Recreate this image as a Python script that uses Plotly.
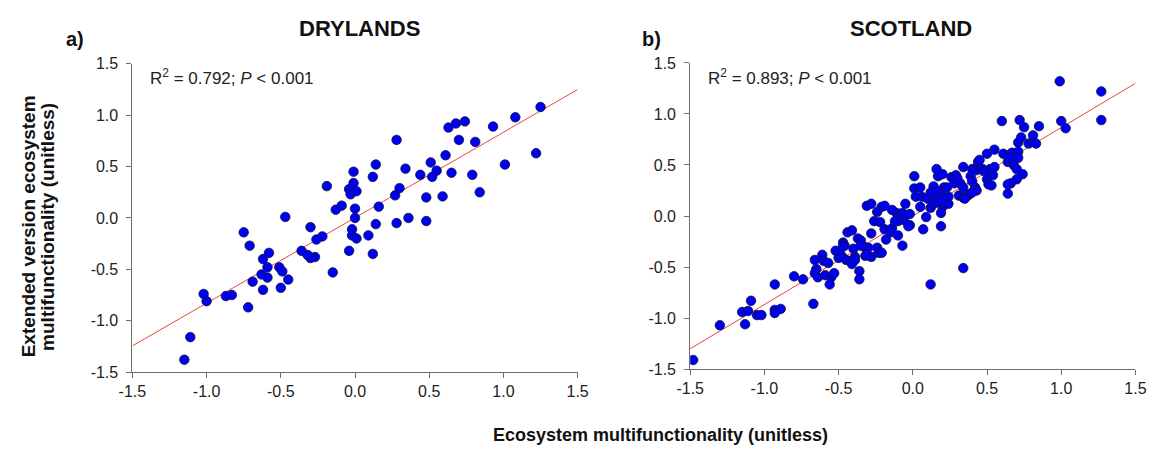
import plotly.graph_objects as go

# ---------------- data ----------------
dry_x = [1.25, 1.08, 1.22, 1.01, 0.93, 0.74, 0.68, 0.63, 0.70, 0.81,
         0.61, 0.51, 0.55, 0.52, 0.65, 0.79, 0.84, 0.59, 0.48, 0.44,
         0.34, 0.30, 0.27, 0.28, 0.14, 0.12, 0.16, 0.14, 0.28, 0.36,
         0.48, -0.01, -0.01, -0.04, -0.03, 0.01, 0.00, 0.00, -0.02, -0.02,
         0.01, 0.09, 0.12, -0.04, -0.09, -0.13, -0.19, -0.22, -0.26, -0.30,
         -0.15, -0.27, -0.30, -0.32, -0.36, -0.47, -0.75, -0.71, -0.58, -0.62,
         -0.59, -0.59, -0.63, -0.69, -0.62, -0.51, -0.49, -0.45, -0.50, -0.72,
         -0.83, -0.87, -1.02, -1.00, -1.11, -1.15]
dry_y = [1.08, 0.98, 0.63, 0.52, 0.89, 0.94, 0.92, 0.88, 0.76, 0.74,
         0.61, 0.54, 0.46, 0.40, 0.44, 0.42, 0.25, 0.21, 0.20, 0.42,
         0.48, 0.29, 0.22, 0.76, 0.52, 0.40, 0.11, -0.06, -0.05, 0.00,
         -0.03, 0.45, 0.34, 0.28, 0.23, 0.26, 0.09, 0.00, -0.11, -0.17,
         -0.20, -0.17, -0.35, -0.32, 0.12, 0.08, 0.31, -0.18, -0.21, -0.09,
         -0.53, -0.38, -0.39, -0.36, -0.32, 0.01, -0.14, -0.27, -0.34, -0.40,
         -0.48, -0.58, -0.55, -0.62, -0.70, -0.48, -0.52, -0.60, -0.68, -0.87,
         -0.75, -0.76, -0.74, -0.81, -1.16, -1.38]

sco_x = [-1.48, -1.30, -1.15, -1.11, -1.13, -1.09, -1.05, -1.02, -0.93, -0.93,
         -0.89, -0.93, -0.80, -0.74, -0.67, -0.66, -0.61, -0.65, -0.66, -0.64,
         -0.59, -0.60, -0.57, -0.55, -0.56, -0.53, -0.52, -0.50, -0.48, -0.47,
         -0.46, -0.44, -0.41, -0.45, -0.42, -0.41, -0.39, -0.40, -0.36, -0.36,
         -0.37, -0.35, -0.33, -0.32, -0.30, -0.28, -0.24, -0.23, -0.21, -0.31,
         -0.28, -0.24, -0.21, -0.26, -0.22, -0.28, -0.19, -0.18, -0.14, -0.15,
         -0.11, -0.10, -0.10, -0.07, -0.07, -0.06, -0.05, -0.02, -0.02, -0.03,
         0.01, 0.01, 0.05, 0.02, 0.06, 0.05, 0.10, 0.09, 0.07, 0.12,
         0.14, 0.16, 0.17, 0.19, 0.15, 0.14, 0.20, 0.19, 0.19, 0.21,
         0.23, 0.24, 0.22, 0.24, 0.26, 0.29, 0.30, 0.34, 0.31, 0.34,
         0.36, 0.38, 0.40, 0.39, 0.40, 0.42, 0.43, 0.43, 0.44, 0.45,
         0.47, 0.50, 0.51, 0.53, 0.52, 0.53, 0.50, 0.55, 0.60, 0.61,
         0.64, 0.66, 0.67, 0.68, 0.67, 0.71, 0.71, 0.70, 0.74, 0.70,
         0.66, 0.64, 0.71, 0.73, 0.75, 0.72, 0.78, 0.81, 0.83, 0.85,
         0.99, 1.00, 1.03, 1.27, 1.27, 0.12, 0.34, 0.12, -0.10, -0.47,
         -0.35, -0.31, -0.39, 0.20, 0.16, 0.15, 0.20, 0.28, 0.32, 0.35,
         0.40, 0.34, 0.48, 0.55, 0.54, 0.65, 0.64, -0.14, -0.19, -0.12]
sco_y = [-1.41, -1.07, -0.94, -0.93, -1.06, -0.83, -0.97, -0.97, -0.92, -0.95,
         -0.91, -0.67, -0.59, -0.62, -0.86, -0.43, -0.38, -0.52, -0.56, -0.60,
         -0.58, -0.44, -0.46, -0.60, -0.67, -0.56, -0.34, -0.41, -0.39, -0.26,
         -0.29, -0.16, -0.14, -0.43, -0.44, -0.47, -0.40, -0.32, -0.54, -0.62,
         -0.22, -0.24, -0.30, -0.39, -0.31, -0.40, -0.31, -0.36, -0.36, 0.10,
         0.12, 0.04, 0.09, -0.05, -0.06, -0.17, -0.13, -0.23, -0.12, -0.16,
         0.03, -0.02, -0.19, -0.29, 0.03, -0.04, 0.12, 0.02, -0.09, -0.10,
         0.39, 0.27, 0.28, 0.19, 0.19, 0.09, 0.17, -0.01, -0.13, 0.08,
         0.29, 0.46, 0.39, 0.24, 0.17, 0.12, 0.09, 0.03, -0.10, 0.28,
         0.28, 0.19, 0.13, 0.12, 0.38, 0.40, 0.37, 0.48, 0.20, 0.18,
         0.19, 0.21, 0.46, 0.39, 0.34, 0.28, 0.25, 0.45, 0.53, 0.55,
         0.46, 0.36, 0.31, 0.30, 0.46, 0.42, 0.61, 0.65, 0.93, 0.61,
         0.53, 0.61, 0.56, 0.50, 0.62, 0.63, 0.57, 0.46, 0.41, 0.36,
         0.32, 0.22, 0.72, 0.77, 0.87, 0.94, 0.71, 0.79, 0.71, 0.88,
         1.32, 0.93, 0.86, 1.22, 0.94, -0.67, -0.51, 0.23, -0.05, -0.30,
         -0.29, -0.38, -0.43, 0.41, 0.24, 0.14, 0.16, 0.32, 0.32, 0.17,
         0.23, 0.28, 0.44, 0.48, 0.40, 0.57, 0.31, 0.06, 0.10, -0.05]

dry_fit_x = [-1.5, 1.5]
dry_fit_y = [-1.245, 1.25]
sco_fit_x = [-1.5, 1.5]
sco_fit_y = [-1.30, 1.30]

tick_vals = [-1.5, -1.0, -0.5, 0.0, 0.5, 1.0, 1.5]
tick_text = ["-1.5", "-1.0", "-0.5", "0.0", "0.5", "1.0", "1.5"]

panel_titles = ["DRYLANDS", "SCOTLAND"]
panel_letters = ["a)", "b)"]
stats_text = ["R<sup>2</sup> = 0.792; <i>P</i> &lt; 0.001",
              "R<sup>2</sup> = 0.893; <i>P</i> &lt; 0.001"]
x_title = "Ecosystem multifunctionality (unitless)"
y_title_lines = ["Extended version ecosystem", "multifunctionality (unitless)"]

# ---------------- figure ----------------
W, H = 1166, 461
FONT = "Liberation Sans, Arial, sans-serif"
MARK = "#0000F0"
LINE = "#E8473C"
AXC = "#6e6e6e"

fig = go.Figure()
fig.add_trace(go.Scatter(x=dry_fit_x, y=dry_fit_y, mode="lines",
                         line=dict(color=LINE, width=1), xaxis="x", yaxis="y",
                         showlegend=False, hoverinfo="skip"))
fig.add_trace(go.Scatter(x=dry_x, y=dry_y, mode="markers",
                         marker=dict(size=9.5, color=MARK,
                                     line=dict(color="#101040", width=0.8)),
                         xaxis="x", yaxis="y", showlegend=False))
fig.add_trace(go.Scatter(x=sco_fit_x, y=sco_fit_y, mode="lines",
                         line=dict(color=LINE, width=1), xaxis="x2", yaxis="y2",
                         showlegend=False, hoverinfo="skip"))
fig.add_trace(go.Scatter(x=sco_x, y=sco_y, mode="markers",
                         marker=dict(size=9.5, color=MARK,
                                     line=dict(color="#101040", width=0.8)),
                         xaxis="x2", yaxis="y2", showlegend=False))


def px_x(p):
    return p / W


def px_y(p):
    return 1 - p / H


axis_common = dict(
    range=[-1.5, 1.5], tickvals=tick_vals, ticktext=tick_text,
    showgrid=False, zeroline=False, showline=True, linecolor=AXC, linewidth=1,
    ticks="outside", ticklen=5, tickwidth=1, tickcolor=AXC,
    tickfont=dict(family=FONT, size=16, color="#222222"),
)

fig.update_layout(
    width=W, height=H,
    margin=dict(l=0, r=0, t=0, b=0),
    paper_bgcolor="white", plot_bgcolor="white",
    showlegend=False,
    xaxis=dict(domain=[px_x(121), px_x(576)], anchor="y", **axis_common),
    yaxis=dict(domain=[px_y(378), px_y(58)], anchor="x", ticklabelstandoff=5, **axis_common),
    xaxis2=dict(domain=[px_x(691), px_x(1146)], anchor="y2", **axis_common),
    yaxis2=dict(domain=[px_y(375), px_y(57)], anchor="x2", ticklabelstandoff=5, **axis_common),
)

ann = []
# panel titles
for t, cx in zip(panel_titles, [353, 917]):
    ann.append(dict(text="<b>%s</b>" % t, x=px_x(cx), y=px_y(21), xref="paper", yref="paper",
                    xanchor="center", yanchor="middle", showarrow=False,
                    font=dict(family=FONT, size=22, color="#111111")))
# panel letters
for t, cx in zip(panel_letters, [62, 651]):
    ann.append(dict(text="<b>%s</b>" % t, x=px_x(cx), y=px_y(32), xref="paper", yref="paper",
                    xanchor="center", yanchor="middle", showarrow=False,
                    font=dict(family=FONT, size=20, color="#111111")))
# stats text
for t, lx in zip(stats_text, [137, 707]):
    ann.append(dict(text=t, x=px_x(lx), y=px_y(72), xref="paper", yref="paper",
                    xanchor="left", yanchor="middle", showarrow=False,
                    font=dict(family=FONT, size=17, color="#222222")))
# axis titles
ann.append(dict(text="<b>%s</b>" % x_title, x=px_x(661), y=px_y(443), xref="paper", yref="paper",
                xanchor="center", yanchor="middle", showarrow=False,
                font=dict(family=FONT, size=18, color="#111111")))
for t, cx in zip(y_title_lines, [15, 34]):
    ann.append(dict(text="<b>%s</b>" % t, x=px_x(cx), y=px_y(227), xref="paper", yref="paper",
                    xanchor="center", yanchor="middle", showarrow=False, textangle=-90,
                    font=dict(family=FONT, size=19, color="#111111")))
fig.update_layout(annotations=ann)

fig.write_html("out.html")
